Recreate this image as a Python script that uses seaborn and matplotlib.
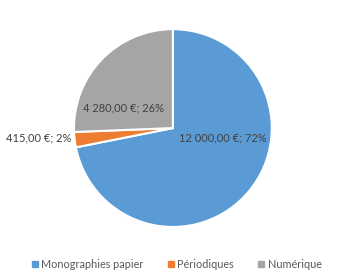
import matplotlib
matplotlib.use("Agg")
import matplotlib.pyplot as plt
import seaborn as sns
from matplotlib.lines import Line2D

categories = ["Monographies papier", "Périodiques", "Numérique"]
values = [12000, 415, 4280]
value_labels = ["12 000,00 €; 72%", "415,00 €; 2%", "4 280,00 €; 26%"]

sns.set_theme(style="white")
plt.rcParams['font.family'] = ['Lato', 'DejaVu Sans']
colors = ["#5B9BD5", "#ED7D31", "#A5A5A5"]

fig = plt.figure(figsize=(3.41, 2.79), dpi=100)
ax = fig.add_axes([0.507 - 0.29, 0.541 - 0.355, 0.58, 0.71])
wedges, _ = ax.pie(values, colors=colors, startangle=90, counterclock=False,
                   wedgeprops=dict(edgecolor="white", linewidth=1.5))
ax.set_aspect('equal')
ax.set_xlim(-1, 1)
ax.set_ylim(-1, 1)

label_pos = [(0.50, -0.10, 'center'), (-1.03, -0.10, 'right'), (-0.50, 0.20, 'center')]
for (x, y, ha), t in zip(label_pos, value_labels):
    ax.text(x, y, t, ha=ha, va='center', fontsize=8, color="#404040")

handles = [Line2D([], [], marker='s', linestyle='', markersize=4, color=c) for c in colors]
fig.legend(handles, categories, loc='center', bbox_to_anchor=(0.515, 0.053), ncol=3,
           frameon=False, fontsize=7.8, labelcolor="#595959", handletextpad=0.1,
           columnspacing=2.0, handlelength=1.0)

fig.savefig("out.png", dpi=100)
